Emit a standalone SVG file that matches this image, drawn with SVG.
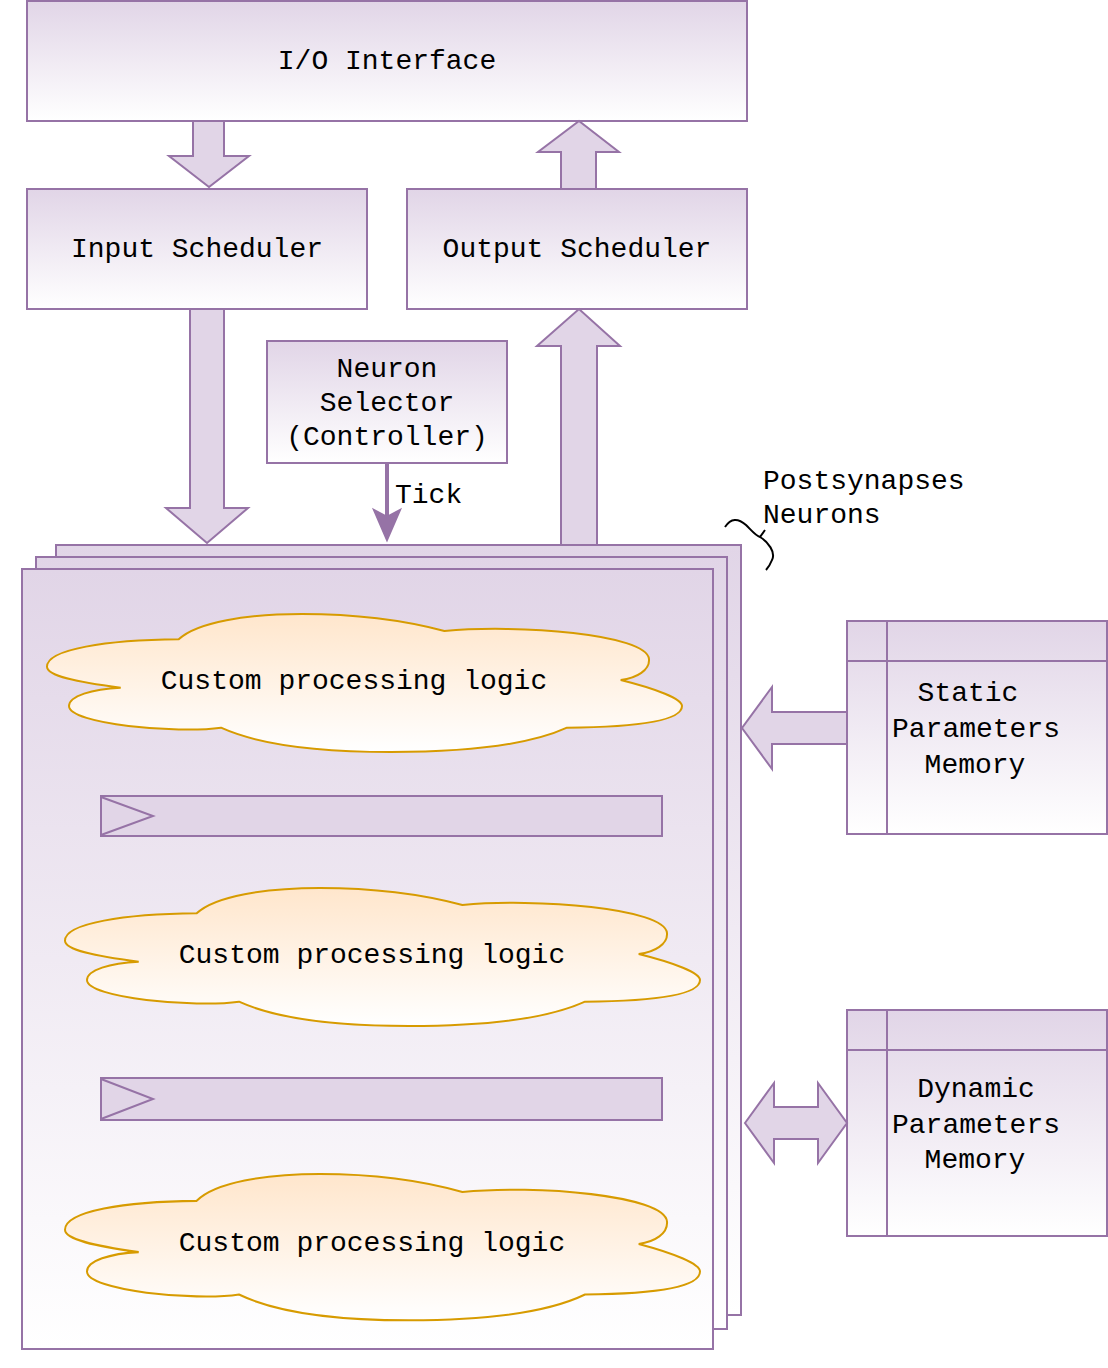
<svg xmlns="http://www.w3.org/2000/svg" width="1108" height="1368" viewBox="0 0 1108 1368">
  <defs>
    <linearGradient id="gP" x1="0" y1="0" x2="0" y2="1">
      <stop offset="0" stop-color="#e1d5e7"/>
      <stop offset="1" stop-color="#ffffff"/>
    </linearGradient>
    <linearGradient id="gO" x1="0" y1="0" x2="0" y2="1">
      <stop offset="0" stop-color="#ffe6cc"/>
      <stop offset="1" stop-color="#ffffff"/>
    </linearGradient>
    <path id="cloud" d="M131.7,25.3 C150,8 200,0 255,0 C310,0 360,7 397.4,17 C470,10 600,20 602,45 C603,56 590,64 573.7,66 C610,75 635,85 635,92 C635,105 600,113 520,113.7 C480,132 410,138 344,138 C270,138 210,130 174,113.7 C130,120 22,110 22,92 C22,82 45,75 73.7,73.7 C30,68 0,62 0,52.7 C0,35 60,26 131.7,25.3 Z"/>
  </defs>
  <style>
    .box { fill: url(#gP); stroke: #9673a6; stroke-width: 2; }
    .solid { fill: #e1d5e7; stroke: #9673a6; stroke-width: 2; }
    .arrow { fill: #e1d5e7; stroke: #9673a6; stroke-width: 2; stroke-linejoin: miter; }
    .line { fill: none; stroke: #9673a6; stroke-width: 2; }
    .cloud { fill: url(#gO); stroke: #d79b00; stroke-width: 2; vector-effect: non-scaling-stroke; }
    .t { font-family: "Liberation Mono", "Courier New", monospace; font-size: 28px; fill: #000000; }
    .c { text-anchor: middle; }
  </style>
  <rect width="1108" height="1368" fill="#ffffff"/>

  <g id="io-interface">
    <rect class="box" x="27" y="1" width="720" height="120"/>
    <text class="t c" x="387" y="69">I/O Interface</text>
  </g>

  <g id="input-scheduler">
    <rect class="box" x="27" y="189" width="340" height="120"/>
    <text class="t c" x="197" y="257">Input Scheduler</text>
  </g>

  <g id="output-scheduler">
    <rect class="box" x="407" y="189" width="340" height="120"/>
    <text class="t c" x="577" y="257">Output Scheduler</text>
  </g>

  <g id="neuron-selector">
    <rect class="box" x="267" y="341" width="240" height="122"/>
    <text class="t c" x="387" y="377">Neuron</text>
    <text class="t c" x="387" y="411">Selector</text>
    <text class="t c" x="387" y="445">(Controller)</text>
  </g>

  <g id="postsynapses-neurons">
    <rect class="box" x="56" y="545" width="685" height="770"/>
    <rect class="box" x="36" y="557" width="691" height="772"/>
    <rect class="box" x="22" y="569" width="691" height="780"/>
    <path d="M725,527 C731,518 738,518 746,525 C752,531 756,536 760,537 L765,530 M760,537 C768,542 776,552 772,560 C770,565 768,568 766,570" fill="none" stroke="#000000" stroke-width="2"/>
    <text class="t" x="763" y="489">Postsynapses</text>
    <text class="t" x="763" y="523">Neurons</text>
  </g>

  <g id="logic-1">
    <use href="#cloud" class="cloud" transform="translate(47,614)"/>
    <text class="t c" x="354" y="689">Custom processing logic</text>
  </g>

  <g id="bar-1">
    <rect class="solid" x="101" y="796" width="561" height="40"/>
    <path class="line" d="M101,797 L153,816 L101,835"/>
  </g>

  <g id="logic-2">
    <use href="#cloud" class="cloud" transform="translate(65,888)"/>
    <text class="t c" x="372" y="963">Custom processing logic</text>
  </g>

  <g id="bar-2">
    <rect class="solid" x="101" y="1078" width="561" height="42"/>
    <path class="line" d="M101,1079 L153,1099 L101,1119"/>
  </g>

  <g id="logic-3">
    <use href="#cloud" class="cloud" transform="translate(65,1174) scale(1,1.06)"/>
    <text class="t c" x="372" y="1251">Custom processing logic</text>
  </g>

  <g id="static-parameters-memory">
    <rect class="box" x="847" y="621" width="260" height="213"/>
    <line class="line" x1="887" y1="621" x2="887" y2="834"/>
    <line class="line" x1="847" y1="661" x2="1107" y2="661"/>
    <text class="t c" x="968" y="701">Static</text>
    <text class="t c" x="976" y="737">Parameters</text>
    <text class="t c" x="975" y="773">Memory</text>
  </g>

  <g id="dynamic-parameters-memory">
    <rect class="box" x="847" y="1010" width="260" height="226"/>
    <line class="line" x1="887" y1="1010" x2="887" y2="1236"/>
    <line class="line" x1="847" y1="1050" x2="1107" y2="1050"/>
    <text class="t c" x="976" y="1097">Dynamic</text>
    <text class="t c" x="976" y="1133">Parameters</text>
    <text class="t c" x="975" y="1168">Memory</text>
  </g>

  <g id="connectors">
    <polygon class="arrow" points="193,121 224,121 224,156 249,156 209,187 169,156 193,156"/>
    <polygon class="arrow" points="561,189 561,152 538,152 579,121 619,152 596,152 596,189"/>
    <polygon class="arrow" points="190,309 224,309 224,508 248,508 207,543 166,508 190,508"/>
    <polygon class="arrow" points="561,545 561,346 537,346 579,309 620,346 597,346 597,545"/>
    <polygon class="arrow" points="847,712 772,712 772,687 742,728 772,769 772,744 847,744"/>
    <polygon class="arrow" points="745,1123 774,1083 774,1107 818,1107 818,1083 847,1123 818,1163 818,1139 774,1139 774,1163"/>
    <line x1="387" y1="463" x2="387" y2="518" stroke="#9673a6" stroke-width="4"/>
    <path d="M387,540 L374,510 L387,517 L400,510 Z" fill="#9673a6" stroke="#9673a6" stroke-width="2" stroke-linejoin="miter"/>
    <text class="t" x="395" y="503">Tick</text>
  </g>
</svg>
